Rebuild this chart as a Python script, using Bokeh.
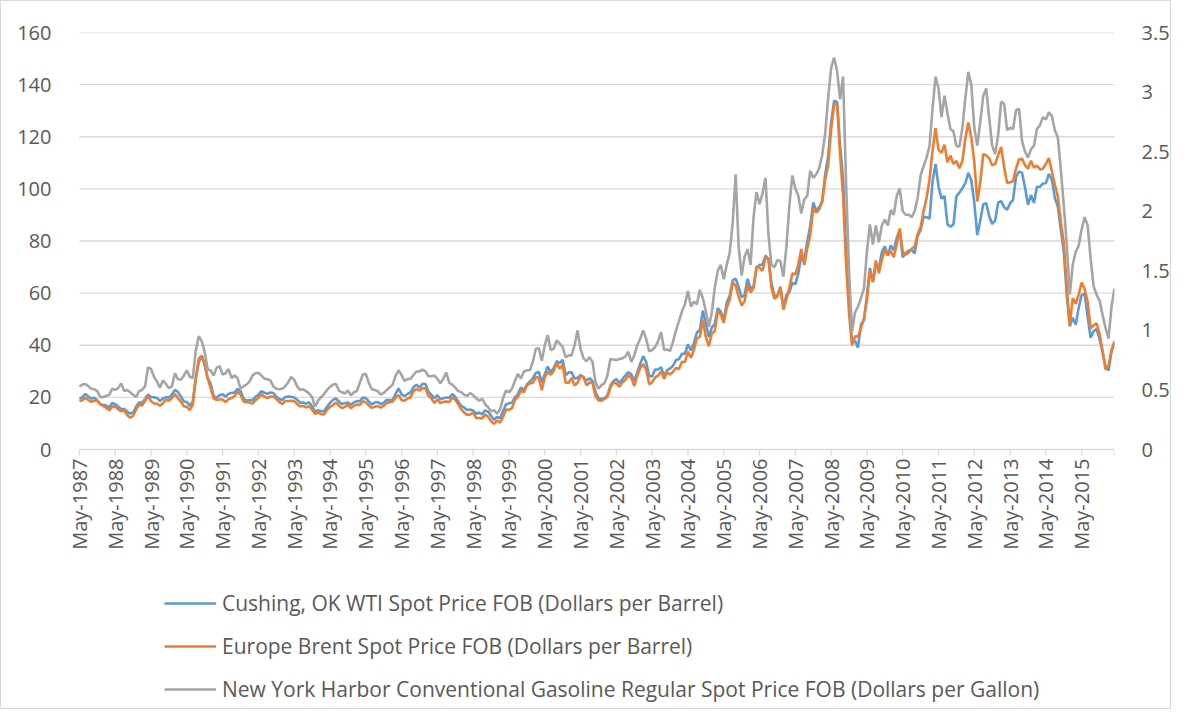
import math
from bokeh.plotting import figure
from bokeh.models import (Range1d, LinearAxis, FixedTicker, NumeralTickFormatter,
                          Legend, LegendItem)
from bokeh.core.properties import value
from bokeh.embed import file_html
from bokeh.resources import INLINE

# Monthly values, May 1987 .. Apr 2016
wti = [
    19.44, 20.07, 21.34, 20.31, 19.53, 19.86, 18.85, 17.28,
    17.13, 16.80, 16.20, 17.86, 17.42, 16.53, 15.50, 15.52, 14.54, 13.77, 14.14, 16.38,
    18.02, 17.94, 19.48, 21.07, 20.12, 20.05, 19.78, 18.58, 19.59, 20.10, 19.86, 21.10,
    22.86, 22.11, 20.39, 18.43, 18.20, 16.70, 18.45, 27.31, 33.51, 36.04, 32.33, 27.28,
    25.23, 20.48, 19.90, 20.83, 21.23, 20.19, 21.40, 21.69, 21.89, 23.23, 22.46, 19.50,
    18.79, 19.01, 18.92, 20.23, 20.98, 22.39, 21.78, 21.34, 21.88, 21.69, 20.34, 19.41,
    19.03, 20.09, 20.32, 20.25, 19.95, 19.09, 17.89, 18.01, 17.50, 18.15, 16.61, 14.52,
    15.03, 14.78, 14.68, 16.42, 17.89, 19.06, 19.65, 18.38, 17.45, 17.72, 18.07, 17.16,
    18.04, 18.57, 18.54, 19.90, 19.74, 18.45, 17.33, 18.02, 18.23, 17.43, 17.99, 19.03,
    18.85, 19.09, 21.33, 23.50, 21.17, 20.42, 21.30, 21.90, 23.97, 24.88, 23.71, 25.23,
    25.13, 22.18, 20.97, 19.70, 20.82, 19.26, 19.66, 19.95, 19.80, 21.33, 20.19, 18.33,
    16.72, 16.06, 15.12, 15.35, 14.91, 13.72, 14.17, 13.47, 15.03, 14.46, 13.00, 11.35,
    12.52, 12.01, 14.68, 17.31, 17.72, 17.92, 20.10, 21.28, 23.80, 22.69, 25.00, 26.10,
    27.26, 29.37, 29.84, 25.72, 28.79, 31.82, 29.70, 31.26, 33.88, 33.11, 34.42, 28.44,
    29.59, 29.61, 27.25, 27.49, 28.63, 27.60, 26.43, 27.37, 26.20, 22.17, 19.64, 19.39,
    19.72, 20.72, 24.53, 26.18, 27.04, 25.52, 26.97, 28.39, 29.66, 28.84, 26.35, 29.46,
    32.95, 35.83, 33.51, 28.17, 28.11, 30.66, 30.76, 31.57, 28.31, 30.34, 31.11, 32.13,
    34.31, 34.69, 36.74, 36.75, 40.28, 38.03, 40.78, 44.90, 45.94, 53.28, 48.47, 43.15,
    46.84, 48.15, 54.19, 52.98, 49.83, 56.35, 59.00, 64.99, 65.59, 62.26, 58.32, 59.41,
    65.49, 61.63, 62.69, 69.44, 70.84, 70.95, 74.41, 73.04, 63.80, 58.89, 59.08, 61.96,
    54.51, 59.28, 60.44, 63.98, 63.46, 67.49, 74.12, 72.36, 79.92, 85.80, 94.77, 91.69,
    92.97, 95.39, 105.45, 112.58, 125.40, 133.88, 133.37, 116.67, 104.11, 76.61, 57.31, 41.12,
    41.71, 39.09, 47.94, 49.65, 59.03, 69.64, 64.15, 71.05, 69.41, 75.72, 77.99, 74.47,
    78.33, 76.39, 81.20, 84.29, 73.74, 75.34, 76.32, 76.60, 75.24, 81.89, 84.25, 89.15,
    89.17, 88.58, 102.86, 109.53, 100.90, 96.26, 97.30, 86.33, 85.52, 86.32, 97.16, 98.56,
    100.27, 102.20, 106.16, 103.32, 94.66, 82.30, 87.90, 94.13, 94.51, 89.49, 86.53, 87.86,
    94.76, 95.31, 92.94, 92.02, 94.51, 95.77, 104.67, 106.57, 106.29, 100.54, 93.86, 97.63,
    94.62, 100.82, 100.80, 102.07, 102.18, 105.79, 103.59, 96.54, 93.21, 84.40, 75.79, 59.29,
    47.22, 50.58, 47.82, 54.45, 59.27, 59.82, 50.90, 42.87, 45.48, 46.22, 42.44, 37.19,
    31.68, 30.32, 37.55, 40.75,
]

brent = [
    18.58, 18.86, 19.86, 18.98, 18.31, 18.76, 18.67, 17.42,
    16.71, 15.96, 15.10, 16.46, 16.53, 15.37, 14.70, 14.94, 13.19, 12.21, 12.94, 15.34,
    17.17, 16.89, 18.70, 20.32, 18.63, 17.67, 17.62, 16.77, 17.77, 19.00, 18.70, 19.74,
    21.25, 19.81, 18.39, 16.61, 16.35, 15.10, 17.17, 27.17, 34.90, 36.02, 32.69, 27.30,
    23.57, 19.54, 19.08, 19.18, 19.19, 18.17, 19.40, 19.77, 20.50, 22.21, 21.11, 18.41,
    18.16, 18.05, 17.63, 18.92, 19.89, 21.16, 20.25, 19.74, 20.27, 20.31, 19.42, 18.26,
    17.45, 18.63, 18.60, 18.65, 18.58, 17.39, 16.48, 16.71, 16.14, 16.65, 15.29, 13.66,
    14.15, 13.64, 13.40, 15.29, 16.30, 17.02, 18.09, 16.89, 15.87, 16.37, 17.11, 15.83,
    16.75, 17.22, 17.08, 18.49, 18.09, 17.00, 15.96, 16.44, 16.68, 16.07, 16.81, 17.88,
    18.12, 18.39, 19.97, 20.82, 18.93, 18.74, 19.59, 20.07, 22.38, 23.30, 22.55, 23.52,
    23.54, 20.60, 19.64, 17.84, 19.21, 17.82, 18.29, 18.41, 18.22, 19.98, 19.10, 17.39,
    15.36, 14.15, 13.28, 13.43, 14.21, 12.08, 12.06, 11.92, 13.36, 12.63, 10.85, 9.82,
    11.11, 10.27, 12.51, 15.29, 15.23, 15.86, 19.08, 20.22, 22.54, 21.99, 24.56, 25.41,
    25.51, 27.78, 27.49, 22.76, 27.74, 29.80, 28.68, 30.20, 33.14, 30.96, 32.55, 25.66,
    25.62, 27.50, 24.50, 25.66, 28.31, 27.85, 24.61, 25.68, 25.62, 20.54, 18.80, 18.71,
    19.42, 20.28, 23.70, 25.73, 25.35, 24.08, 25.74, 26.65, 28.40, 27.54, 24.34, 28.33,
    31.18, 32.77, 30.61, 25.00, 25.86, 27.65, 28.35, 29.89, 27.11, 29.61, 28.75, 29.81,
    31.28, 30.86, 33.63, 33.59, 37.57, 35.18, 38.22, 42.74, 43.20, 49.78, 43.11, 39.60,
    44.51, 45.48, 53.10, 51.88, 48.65, 54.35, 57.52, 63.98, 62.91, 58.54, 55.24, 56.86,
    62.99, 60.21, 62.06, 70.26, 69.78, 68.56, 73.67, 73.23, 61.96, 57.81, 58.76, 62.47,
    53.68, 57.56, 62.05, 67.49, 67.21, 71.05, 76.93, 70.76, 77.17, 82.34, 92.41, 90.93,
    92.18, 94.99, 103.64, 109.07, 122.80, 132.32, 132.72, 113.24, 97.23, 71.58, 52.45, 39.95,
    43.44, 43.32, 46.54, 50.18, 57.30, 68.61, 64.44, 72.51, 67.65, 72.77, 76.66, 74.46,
    76.17, 73.75, 78.83, 84.82, 75.95, 74.76, 75.58, 77.04, 77.84, 82.67, 85.28, 91.45,
    96.52, 103.72, 114.64, 123.26, 114.99, 113.83, 116.97, 110.22, 112.83, 109.55, 110.77, 107.87,
    110.69, 119.33, 125.45, 119.75, 110.34, 95.16, 102.62, 113.36, 112.86, 111.71, 109.06, 109.49,
    112.96, 116.05, 108.47, 102.25, 102.56, 102.92, 107.93, 111.28, 111.60, 109.08, 107.79, 110.76,
    108.12, 108.90, 107.48, 107.76, 109.54, 111.80, 106.77, 101.61, 97.09, 87.43, 79.44, 62.34,
    47.76, 58.10, 55.89, 59.52, 64.08, 61.48, 56.56, 46.52, 47.62, 48.43, 44.27, 38.01,
    30.70, 32.18, 38.21, 41.58,
]

gasoline = [
    0.53, 0.545, 0.55, 0.53, 0.51, 0.505, 0.49, 0.44,
    0.44, 0.45, 0.46, 0.51, 0.50, 0.515, 0.555, 0.49, 0.50, 0.48, 0.46, 0.44,
    0.49, 0.50, 0.53, 0.69, 0.675, 0.61, 0.57, 0.52, 0.58, 0.55, 0.515, 0.53,
    0.64, 0.59, 0.585, 0.62, 0.665, 0.61, 0.60, 0.83, 0.95, 0.91, 0.82, 0.67,
    0.665, 0.62, 0.685, 0.70, 0.63, 0.64, 0.675, 0.60, 0.62, 0.60, 0.51, 0.53,
    0.545, 0.57, 0.62, 0.64, 0.645, 0.62, 0.595, 0.59, 0.58, 0.53, 0.51, 0.505,
    0.51, 0.53, 0.565, 0.61, 0.585, 0.53, 0.50, 0.505, 0.49, 0.47, 0.44, 0.36,
    0.41, 0.44, 0.465, 0.50, 0.525, 0.545, 0.55, 0.495, 0.48, 0.47, 0.495, 0.455,
    0.48, 0.49, 0.56, 0.63, 0.635, 0.56, 0.505, 0.50, 0.49, 0.46, 0.475, 0.50,
    0.52, 0.545, 0.62, 0.665, 0.625, 0.575, 0.59, 0.595, 0.625, 0.655, 0.655, 0.67,
    0.655, 0.615, 0.615, 0.62, 0.595, 0.555, 0.595, 0.645, 0.56, 0.545, 0.52, 0.49,
    0.48, 0.46, 0.45, 0.475, 0.455, 0.43, 0.41, 0.425, 0.38, 0.355, 0.32, 0.33,
    0.30, 0.335, 0.43, 0.495, 0.48, 0.51, 0.575, 0.635, 0.595, 0.655, 0.665, 0.665,
    0.735, 0.845, 0.85, 0.745, 0.875, 0.96, 0.835, 0.845, 0.915, 0.89, 0.86, 0.775,
    0.79, 0.79, 0.875, 1.00, 0.845, 0.765, 0.74, 0.775, 0.735, 0.565, 0.51, 0.54,
    0.555, 0.62, 0.76, 0.755, 0.75, 0.76, 0.765, 0.78, 0.82, 0.735, 0.79, 0.875,
    0.93, 1.00, 0.93, 0.825, 0.835, 0.86, 0.91, 0.985, 0.835, 0.84, 0.825, 0.905,
    1.00, 1.08, 1.16, 1.22, 1.33, 1.20, 1.24, 1.22, 1.34, 1.27, 1.16, 1.03,
    1.15, 1.36, 1.50, 1.55, 1.43, 1.55, 1.65, 1.90, 2.31, 1.70, 1.46, 1.62,
    1.68, 1.55, 1.95, 2.16, 2.06, 2.15, 2.28, 1.80, 1.55, 1.53, 1.59, 1.58,
    1.45, 1.70, 2.05, 2.30, 2.19, 2.13, 1.98, 2.10, 2.13, 2.34, 2.28, 2.31,
    2.36, 2.47, 2.65, 2.95, 3.20, 3.29, 3.18, 2.94, 3.13, 2.25, 1.50, 0.99,
    1.15, 1.20, 1.27, 1.35, 1.66, 1.89, 1.72, 1.88, 1.74, 1.88, 1.93, 1.88,
    2.01, 1.97, 2.13, 2.19, 2.00, 1.97, 1.97, 1.95, 2.00, 2.11, 2.30, 2.38,
    2.45, 2.55, 2.86, 3.13, 3.03, 2.79, 2.97, 2.82, 2.69, 2.67, 2.55, 2.54,
    2.70, 2.95, 3.17, 3.06, 2.70, 2.55, 2.75, 2.97, 3.03, 2.78, 2.55, 2.48,
    2.64, 2.92, 2.90, 2.68, 2.70, 2.69, 2.85, 2.86, 2.59, 2.50, 2.45, 2.52,
    2.55, 2.69, 2.72, 2.79, 2.77, 2.83, 2.80, 2.68, 2.62, 2.35, 2.05, 1.72,
    1.30, 1.55, 1.66, 1.71, 1.85, 1.95, 1.88, 1.60, 1.37, 1.30, 1.25, 1.13,
    1.02, 0.93, 1.20, 1.35,
]

tick_years = list(range(1987, 2016))
tick_labels = ["May-%d" % y for y in tick_years]
left_ticks = [0, 20, 40, 60, 80, 100, 120, 140, 160]
right_ticks = [0, 0.5, 1, 1.5, 2, 2.5, 3, 3.5]
series_names = [
    "Cushing, OK WTI Spot Price FOB (Dollars per Barrel)",
    "Europe Brent Spot Price FOB (Dollars per Barrel)",
    "New York Harbor Conventional Gasoline Regular Spot Price FOB (Dollars per Gallon)",
]
colors = ["#5b9bd5", "#ed7d31", "#a5a5a5"]

n = len(wti)
assert n == len(brent) == len(gasoline) == 348, (len(wti), len(brent), len(gasoline))
x = list(range(n))

FONT = "Open Sans"
TXT = "#595959"
GRID = "#d9d9d9"

# layout: the frame runs from the 160 line down to the bottom of the chart and a
# few months left of the first category, so that category labels and the legend
# can sit inside it below zero without being clipped.
W, H = 1171, 709
PAD = 4                     # empty months left of the first category
LEFT, RIGHT, TOP = 66, 53, 31
frame_h = H - TOP
LMAX, RMAX = 160, 3.5
px_per_unit = (447.7 - 30.7) / LMAX
lmin = LMAX - frame_h / px_per_unit
rmin = lmin * RMAX / LMAX
px_per_month = (W - LEFT - RIGHT) / (n - 1 + PAD)

p = figure(width=W, height=H, x_range=Range1d(-PAD, n - 1), y_range=Range1d(lmin, LMAX),
           output_backend="svg", toolbar_location=None, x_axis_location=None,
           min_border_left=LEFT, min_border_right=RIGHT, min_border_top=TOP, min_border_bottom=0,
           background_fill_color="white", border_fill_color="white")
p.outline_line_color = None
p.extra_y_ranges = {"gas": Range1d(rmin, RMAX)}

# left axis
ya = p.yaxis[0]
ya.ticker = FixedTicker(ticks=left_ticks)
ya.axis_line_color = None
ya.major_tick_line_color = None
ya.minor_tick_line_color = None
ya.major_label_standoff = 10
ya.major_label_text_font = FONT
ya.major_label_text_font_size = "20px"
ya.major_label_text_color = TXT

# right axis
ra = LinearAxis(y_range_name="gas", ticker=FixedTicker(ticks=right_ticks),
                formatter=NumeralTickFormatter(format="0.[0]"))
ra.axis_line_color = None
ra.major_tick_line_color = None
ra.minor_tick_line_color = None
ra.major_label_standoff = 21
ra.major_label_text_font = FONT
ra.major_label_text_font_size = "20px"
ra.major_label_text_color = TXT
p.add_layout(ra, "right")

# horizontal gridlines over the category span only
p.xgrid.visible = False
p.ygrid.visible = False
p.segment(x0=[0] * len(left_ticks), y0=left_ticks, x1=[n - 1] * len(left_ticks),
          y1=left_ticks, line_color=GRID, line_width=1.3)

# category axis: tick marks every 12 months plus one at the end, labels below
tick_pos = [12 * i for i in range(len(tick_labels))]
tick_marks = tick_pos + [n - 1]
tick_len = 6 / px_per_unit
p.segment(x0=tick_marks, y0=[0] * len(tick_marks), x1=tick_marks,
          y1=[-tick_len] * len(tick_marks), line_color=GRID, line_width=1.3)
p.text(x=tick_pos, y=[-(9 / px_per_unit)] * len(tick_pos), text=tick_labels,
       angle=math.pi / 2, text_align="right", text_baseline="middle",
       text_font=value(FONT), text_font_size="20px", text_color=TXT)

r1 = p.line(x, wti, line_color=colors[0], line_width=2.6)
r2 = p.line(x, brent, line_color=colors[1], line_width=2.6)
r3 = p.line(x, gasoline, line_color=colors[2], line_width=2.6, y_range_name="gas")

legend = Legend(items=[LegendItem(label=series_names[0], renderers=[r1]),
                       LegendItem(label=series_names[1], renderers=[r2]),
                       LegendItem(label=series_names[2], renderers=[r3])],
                location=(int(round(85 + PAD * px_per_month)), 7), orientation="vertical",
                glyph_width=52, glyph_height=20, label_height=20, spacing=15,
                padding=0, margin=0, label_standoff=6,
                border_line_color=None, background_fill_alpha=0,
                label_text_font=FONT, label_text_font_size="21px",
                label_text_color=TXT)
p.add_layout(legend, "center")

p.styles = {"border": "1px solid #d9d9d9"}

open("out.html", "w").write(file_html(p, INLINE))
